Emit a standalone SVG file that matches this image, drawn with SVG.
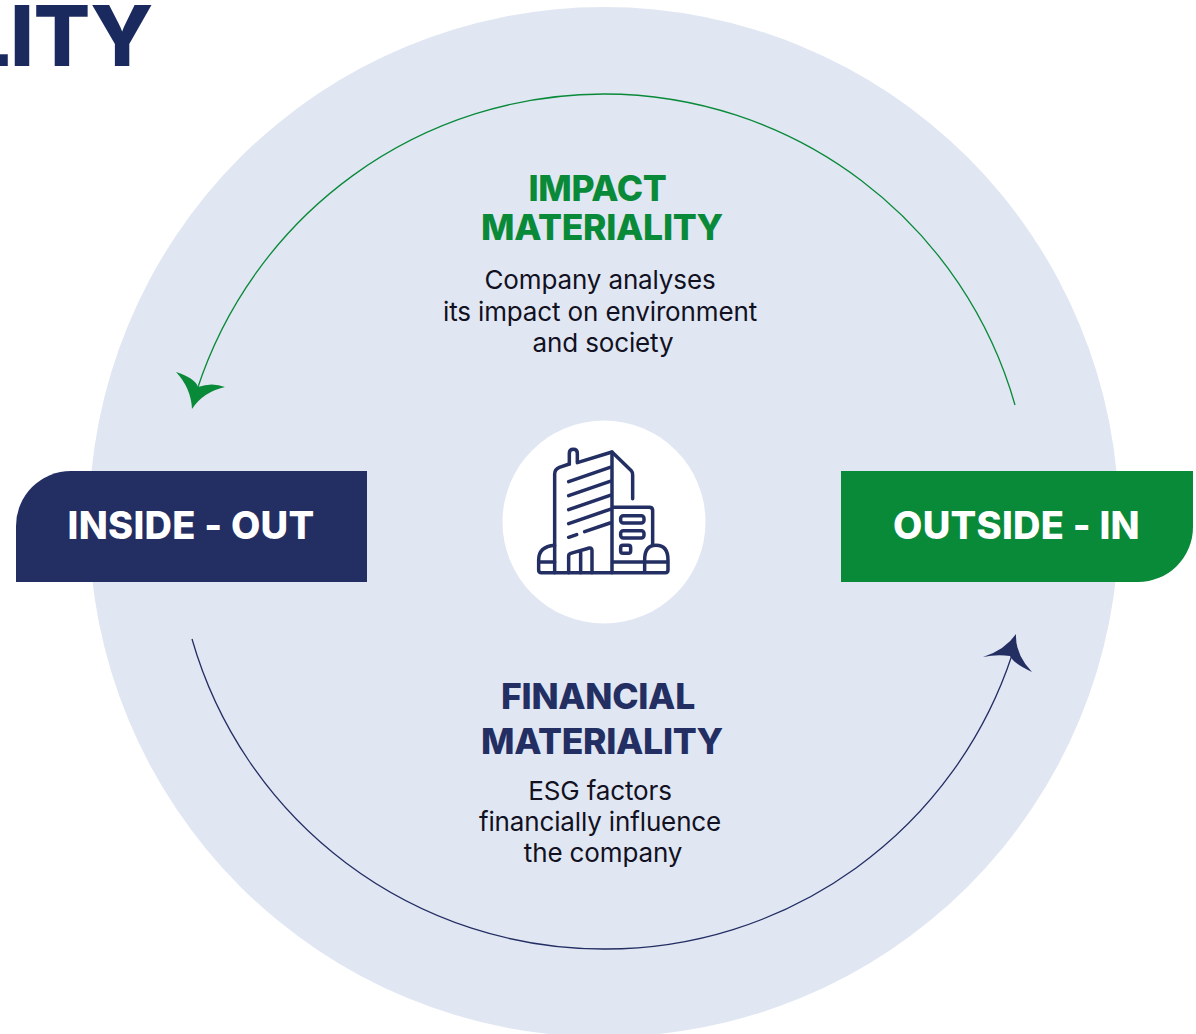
<svg xmlns="http://www.w3.org/2000/svg" width="1196" height="1034" viewBox="0 0 1196 1034">
<style>
.h{font-family:"Inter","Liberation Sans",sans-serif;font-weight:800;text-anchor:middle}
.b{font-family:"Inter","Liberation Sans",sans-serif;font-weight:400;font-size:26px;letter-spacing:-.14px;fill:#111122;text-anchor:middle}
.ic{fill:none;stroke:#232e63;stroke-width:10.500;stroke-linecap:round;stroke-linejoin:round}
</style>
<rect width="1196" height="1034" fill="#ffffff"/>
<circle cx="604" cy="522" r="515" fill="#e0e6f2"/>
<text class="h" x="153" y="66" font-size="84" fill="#1b2a5e" style="text-anchor:end;font-weight:800" letter-spacing="-.5">LITY</text>
<g id="connectors" fill="none">
<path d="M1015 405A428 428 0 0 0 604 94A428 428 0 0 0 197 390" stroke="#098a39" stroke-width="1.3"/>
<path d="M176 372Q195 378 198 387Q212 382 225 387Q203 392 192 409Q191 388 176 372Z" fill="#098a39"/>
<path d="M192 639A428 428 0 0 0 604 949A428 428 0 0 0 1012 655" stroke="#232e63" stroke-width="1.3"/>
<path d="M1016 634Q1015 654 1032 672Q1014 664 1010 656Q997 654 983 657Q1005 650 1016 634Z" fill="#232e63"/>
</g>
<g id="inside-out">
<path d="M16 582V526A55 55 0 0 1 71 471H367V582Z" fill="#232e63"/>
<text class="h" x="191" y="539" font-size="38" letter-spacing=".25" fill="#ffffff">INSIDE - OUT</text>
</g>
<g id="outside-in">
<path d="M841 471H1193V527A55 55 0 0 1 1138 582H841Z" fill="#098a39"/>
<text class="h" x="1016.500" y="539" font-size="38" letter-spacing=".25" fill="#ffffff">OUTSIDE - IN</text>
</g>
<g id="impact">
<text class="h" x="597.500" y="201" font-size="35.500" letter-spacing="-.3" fill="#098a39">IMPACT</text>
<text class="h" x="602" y="240" font-size="35.500" letter-spacing="-.3" fill="#098a39">MATERIALITY</text>
<text class="b" x="600" y="289">Company analyses</text>
<text class="b" x="600" y="321">its impact on environment</text>
<text class="b" x="603" y="352">and society</text>
</g>
<g id="financial">
<text class="h" x="598" y="709" font-size="35.500" letter-spacing="-.3" fill="#232e63">FINANCIAL</text>
<text class="h" x="602" y="754" font-size="35.500" letter-spacing="-.3" fill="#232e63">MATERIALITY</text>
<text class="b" x="600" y="800">ESG factors</text>
<text class="b" x="600" y="831">financially influence</text>
<text class="b" x="603" y="862">the company</text>
</g>
<g id="company">
<circle cx="604" cy="522" r="101.500" fill="#ffffff"/>
<g transform="translate(500 420) scale(.3333)" class="ic">
<path d="M208 132V100Q208 88 220 88Q232 88 232 100V125"/>
<path d="M232 128L336 96L394 152Q398 156 398 165V236"/>
<path d="M208 132L178 142Q164 148 164 162V458"/>
<path d="M336 96V458"/>
<path d="M206 185L330 142M206 227L330 184M206 269L330 226M206 311L330 268M254 335L330 309M206 352L230 344"/>
<path d="M338 262H448Q458 262 458 272V372"/>
<rect x="362" y="287" width="70" height="22" rx="8"/>
<rect x="362" y="332" width="70" height="22" rx="8"/>
<rect x="362" y="376" width="30" height="24" rx="7"/>
<path d="M206 458V408Q206 402 212 400L268 384Q276 383 276 392V458M242 395V458"/>
<path d="M164 376Q116 380 116 420V450Q116 458 124 458H496Q504 458 504 450V420Q504 376 468 376Q434 376 434 420V458"/>
<path d="M118 426H164M340 426H434M434 426H502"/>
</g>
</g>
</svg>
